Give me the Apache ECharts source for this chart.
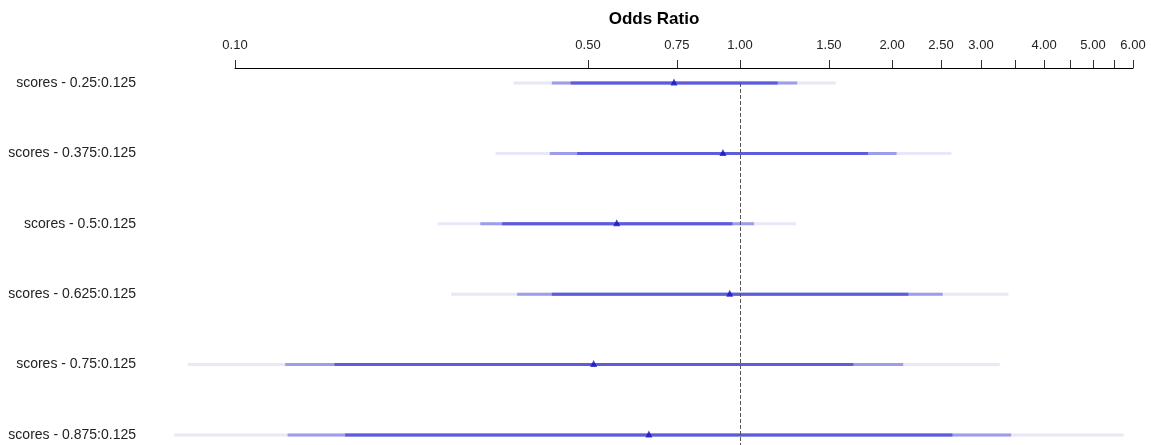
<!DOCTYPE html>
<html>
<head>
<meta charset="utf-8">
<script src="https://cdn.jsdelivr.net/npm/echarts@6/dist/echarts.min.js"></script>
<style>html,body{margin:0;padding:0;background:#fff}#main{width:1151px;height:445px}</style>
</head>
<body>
<div id="main"></div>
<script>
// Row labels (top to bottom)
const categories = ['scores - 0.25:0.125','scores - 0.375:0.125','scores - 0.5:0.125','scores - 0.625:0.125','scores - 0.75:0.125','scores - 0.875:0.125'];
// Point estimates (odds ratio)
const estimate = [0.740, 0.925, 0.570, 0.954, 0.513, 0.660];
// Inner interval (darkest)
const innerLow  = [0.462, 0.476, 0.338, 0.424, 0.1574, 0.1652];
const innerHigh = [1.187, 1.792, 0.966, 2.154, 1.676, 2.634];
// Middle interval
const midLow  = [0.424, 0.420, 0.306, 0.362, 0.1257, 0.1271];
const midHigh = [1.298, 2.042, 1.066, 2.520, 2.104, 3.443];
// Outer interval (lightest)
const outerLow  = [0.356, 0.328, 0.252, 0.268, 0.0806, 0.0757];
const outerHigh = [1.547, 2.620, 1.291, 3.401, 3.267, 5.750];
// Axis ticks
const tickValues  = [0.1,0.5,0.75,1,1.5,2,2.5,3,3.5,4,4.5,5,5.5,6];
const labelValues = [0.1,0.5,0.75,1,1.5,2,2.5,3,4,5,6];
const refValue = 1;

const L = Math.log10;
const yMin = 0.787, yMax = 6.142;

function segData(lo, hi) {
  return lo.map((v, i) => [L(v), L(hi[i]), i + 1]);
}
function segSeries(lo, hi, color) {
  return {
    type: 'custom',
    clip: false,
    silent: true,
    encode: { x: [0, 1], y: 2 },
    data: segData(lo, hi),
    renderItem: function (params, api) {
      const p1 = api.coord([api.value(0), api.value(2)]);
      const p2 = api.coord([api.value(1), api.value(2)]);
      return { type: 'line', shape: { x1: p1[0], y1: p1[1], x2: p2[0], y2: p2[1] },
               style: { stroke: color, lineWidth: 3 } };
    }
  };
}

const chart = echarts.init(document.getElementById('main'));
chart.setOption({
  animation: false,
  title: {
    text: 'Odds Ratio', left: 649, top: 6, textAlign: 'center',
    textStyle: { fontFamily: 'Liberation Sans, Arial, sans-serif', fontSize: 17, fontWeight: 'bold', color: '#000' }
  },
  grid: { left: 235, right: 18, top: 68, bottom: 0 },
  xAxis: {
    type: 'value', position: 'top',
    min: L(0.1), max: L(6),
    splitLine: { show: false },
    axisLine: { show: true, lineStyle: { color: '#000', width: 1 } },
    axisTick: { show: true, length: 8, customValues: tickValues.map(L), lineStyle: { color: '#333' } },
    axisLabel: {
      customValues: labelValues.map(L), margin: 16,
      formatter: v => Math.pow(10, v).toFixed(2),
      fontFamily: 'Liberation Sans, Arial, sans-serif', fontSize: 13, color: '#222'
    }
  },
  yAxis: {
    type: 'value', inverse: true, min: yMin, max: yMax,
    splitLine: { show: false }, axisLine: { show: false }, axisTick: { show: false },
    axisLabel: {
      customValues: [1,2,3,4,5,6], margin: 99,
      formatter: v => categories[Math.round(v) - 1] || '',
      fontFamily: 'Liberation Sans, Arial, sans-serif', fontSize: 14, color: '#222'
    }
  },
  series: [
    segSeries(outerLow, outerHigh, '#e8e8f8'),
    segSeries(midLow, midHigh, '#9d9deb'),
    segSeries(innerLow, innerHigh, '#5c5cdc'),
    {
      type: 'scatter',
      symbol: 'triangle', symbolSize: 7, symbolOffset: [0, -1],
      itemStyle: { color: '#1414c8' },
      data: estimate.map((v, i) => [L(v), i + 1]),
      z: 5,
      markLine: {
        silent: true, symbol: 'none', label: { show: false },
        lineStyle: { color: '#555', type: [4, 2], width: 1 },
        data: [[{ coord: [L(refValue), 1] }, { coord: [L(refValue), yMax] }]]
      }
    }
  ]
});
</script>
</body>
</html>
